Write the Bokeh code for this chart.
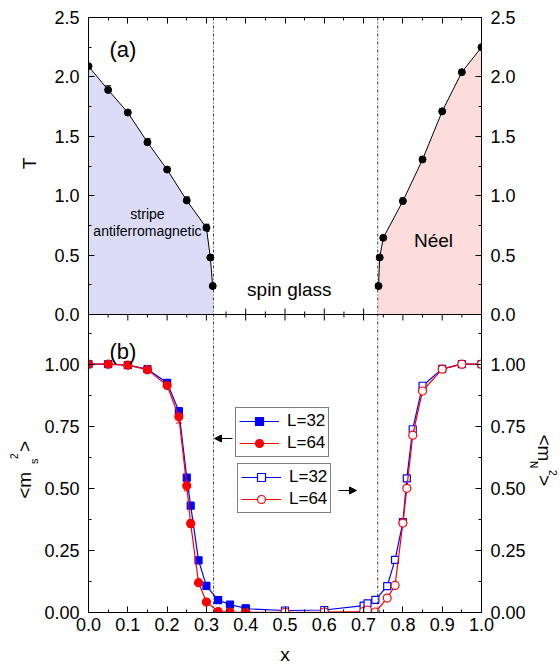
import math
from bokeh.plotting import figure
from bokeh.models import (Range1d, LinearAxis, FixedTicker,
                          PrintfTickFormatter, CustomJSTickFormatter, Span, Label, Legend,
                          LegendItem, Arrow, NormalHead, Whisker, TeeHead, ColumnDataSource)
from bokeh.layouts import row
from bokeh.embed import file_html
from bokeh.resources import INLINE

FONT = "Liberation Sans"

# ---------------- data: panel (a) phase diagram ----------------
stripe_x = [0.0, 0.05, 0.10, 0.15, 0.20, 0.25, 0.30, 0.31, 0.316]
stripe_T = [2.09, 1.89, 1.70, 1.45, 1.22, 0.96, 0.73, 0.48, 0.24]
stripe_err = [0.01, 0.035, 0.02, 0.03, 0.02, 0.03, 0.03, 0.02, 0.02]

neel_x = [0.738, 0.741, 0.75, 0.80, 0.85, 0.90, 0.95, 1.00]
neel_T = [0.24, 0.48, 0.645, 0.955, 1.305, 1.71, 2.04, 2.25]
neel_err = [0.02, 0.02, 0.02, 0.025, 0.02, 0.02, 0.02, 0.01]

boundaries = [0.318, 0.736]   # spin-glass phase boundaries (dotted lines)

# ---------------- data: panel (b) order parameters ----------------
xs_stripe = [0.0, 0.05, 0.10, 0.15, 0.20, 0.23, 0.25, 0.26, 0.28, 0.30, 0.33, 0.36, 0.40]
ms_L32 = [1.0, 1.0, 0.996, 0.98, 0.925, 0.81, 0.543, 0.43, 0.21, 0.107, 0.05, 0.032, 0.017]
ms_L32_err = [0, 0, 0, 0.005, 0.01, 0.015, 0.01, 0.01, 0.01, 0.008, 0.006, 0.005, 0.004]
ms_L64 = [1.0, 1.0, 0.996, 0.978, 0.914, 0.788, 0.51, 0.358, 0.12, 0.042, 0.004, 0.002, 0.001]
ms_L64_err = [0, 0, 0, 0.005, 0.01, 0.025, 0.02, 0.015, 0.01, 0.008, 0.004, 0.002, 0.001]

xs_neel = [0.40, 0.50, 0.60, 0.70, 0.71, 0.73, 0.76, 0.78, 0.80, 0.81, 0.825, 0.85, 0.90, 0.95, 1.00]
mn_L32 = [0.015, 0.008, 0.010, 0.028, 0.037, 0.051, 0.106, 0.212, 0.364, 0.54, 0.738, 0.913, 0.981, 1.0, 1.0]
mn_L32_err = [0.006] * 15
mn_L64 = [0.001, 0.001, 0.002, 0.004, 0.010, 0.002, 0.058, 0.109, 0.36, 0.50, 0.714, 0.892, 0.98, 1.0, 1.0]
mn_L64_err = [0.004] * 15

legend_labels = ["L=32", "L=64"]

T_ticks = [0.0, 0.5, 1.0, 1.5, 2.0, 2.5]
T_minor = [0.25, 0.75, 1.25, 1.75, 2.25]
m_ticks = [0.0, 0.25, 0.50, 0.75, 1.00]
m_minor = [0.125, 0.375, 0.625, 0.875, 1.125]
x_ticks = [0.0, 0.1, 0.2, 0.3, 0.4, 0.5, 0.6, 0.7, 0.8, 0.9, 1.0]
x_minor = [0.05, 0.15, 0.25, 0.35, 0.45, 0.55, 0.65, 0.75, 0.85, 0.95]

# ---------------- geometry of the two stacked panels (one frame) ----------------
W_LEFT, W_RIGHT, H = 41, 33, 671
B_TOP, B_BOT = 17, 59
FW, H_TOP, H_BOT = 393, 297, 298
M_TOP = 1.2                          # upper limit of panel (b)
PX_M = H_BOT / M_TOP                 # px per unit of <m^2>
PX_T = H_TOP / 2.5                   # px per unit of T
K = PX_T / PX_M                      # T -> panel-(b) units
m_end = (H_TOP + H_BOT) / PX_M
T_start = -H_BOT / PX_T

p = figure(frame_width=FW, frame_height=H_TOP + H_BOT,
           x_range=Range1d(0, 1), y_range=Range1d(0, m_end),
           output_backend="svg", toolbar_location=None,
           x_axis_location=None, y_axis_location=None,
           min_border_left=87 - W_LEFT, min_border_right=47, min_border_top=B_TOP,
           min_border_bottom=B_BOT)
p.extra_y_ranges = {"top": Range1d(T_start, 2.5)}
p.xgrid.visible = False
p.ygrid.visible = False
p.outline_line_color = "black"
p.background_fill_color = "white"
p.border_fill_color = "white"

y_major = m_ticks + [M_TOP + K * t for t in T_ticks]
y_minor = m_minor + [M_TOP + K * t for t in T_minor]
yfmt = CustomJSTickFormatter(args=dict(b=M_TOP, k=K), code="""
    if (tick > b - 1e-6) {
        let T = (tick - b) / k;
        if (Math.abs(T) < 1e-6) { T = 0; }
        return T.toFixed(1);
    }
    return tick.toFixed(2);
""")


def style(ax, standoff=9):
    ax.axis_line_color = "black"
    ax.major_tick_in = 6
    ax.major_tick_out = 0
    ax.minor_tick_in = 3
    ax.minor_tick_out = 0
    ax.major_tick_line_color = "black"
    ax.minor_tick_line_color = "black"
    ax.major_label_text_font = FONT
    ax.major_label_text_font_size = "18px"
    ax.major_label_text_color = "black"
    ax.major_label_standoff = standoff
    ax.axis_label_text_font = FONT
    ax.axis_label_text_font_style = "normal"
    ax.axis_label_text_color = "black"
    ax.axis_label_text_font_size = "19px"
    return ax


for side in ("left", "right"):
    ax = LinearAxis(ticker=FixedTicker(ticks=y_major, minor_ticks=y_minor), formatter=yfmt)
    p.add_layout(style(ax), side)

xb = LinearAxis(ticker=FixedTicker(ticks=x_ticks, minor_ticks=x_minor),
                formatter=PrintfTickFormatter(format="%.1f"))
style(xb, standoff=5)
xb.axis_label = "x"
xb.axis_label_standoff = 10
p.add_layout(xb, "below")

xt = LinearAxis(ticker=FixedTicker(ticks=x_ticks, minor_ticks=x_minor),
                formatter=CustomJSTickFormatter(code="return '';"))
style(xt, standoff=0)
p.add_layout(xt, "above")

# shared border between panel (a) and panel (b), with ticks into both panels
p.add_layout(Span(location=M_TOP, dimension="width", line_color="black", line_width=1))
p.scatter(x_ticks, [M_TOP] * len(x_ticks), marker="dash", angle=math.pi / 2, size=12,
          line_color="black", line_width=1)
p.scatter(x_minor, [M_TOP] * len(x_minor), marker="dash", angle=math.pi / 2, size=6,
          line_color="black", line_width=1)

# ================= panel (a) =================
p.patch(stripe_x + [boundaries[0], 0.0], stripe_T + [0.0, 0.0],
        fill_color="#DCDCF8", line_color=None, y_range_name="top")
p.patch([boundaries[1]] + neel_x + [1.0], [0.0] + neel_T + [0.0],
        fill_color="#FDDCDC", line_color=None, y_range_name="top")

for b in boundaries:
    p.add_layout(Span(location=b, dimension="height", line_color="black",
                      line_width=0.8, line_dash="3 2 1 2"))

for xs, ys, es in [(stripe_x, stripe_T, stripe_err), (neel_x, neel_T, neel_err)]:
    src = ColumnDataSource(dict(x=xs, y=ys,
                                up=[a + e for a, e in zip(ys, es)],
                                lo=[a - e for a, e in zip(ys, es)]))
    p.add_layout(Whisker(source=src, base="x", upper="up", lower="lo", dimension="height",
                         line_color="black", line_width=1, y_range_name="top",
                         upper_head=TeeHead(size=6, line_color="black"),
                         lower_head=TeeHead(size=6, line_color="black")))
    p.line("x", "y", source=src, line_color="black", line_width=1, y_range_name="top")
    p.scatter("x", "y", source=src, marker="circle", size=7, color="black",
              y_range_name="top")


def lab(fig, x, y, text, fs, rng="default", align="left", angle=0.0, base="alphabetic"):
    fig.add_layout(Label(x=x, y=y, text=text, text_font=FONT, text_font_size=fs,
                         text_color="black", text_align=align, text_baseline=base,
                         angle=angle, y_range_name=rng))


lab(p, 0.0534, 2.231, "(a)", "22px", "top")
lab(p, 0.150, 0.85, "stripe", "14px", "top", "center")
lab(p, 0.150, 0.707, "antiferromagnetic", "14px", "top", "center")
lab(p, 0.511, 0.21, "spin glass", "19px", "top", "center")
lab(p, 0.878, 0.623, "Néel", "19px", "top", "center")

# ================= panel (b) =================


def series(xs, ys, es, color, marker, size, filled):
    src = ColumnDataSource(dict(x=xs, y=ys,
                                up=[a + e for a, e in zip(ys, es)],
                                lo=[a - e for a, e in zip(ys, es)]))
    ln = p.line("x", "y", source=src, line_color=color, line_width=1.2)
    p.add_layout(Whisker(source=src, base="x", upper="up", lower="lo", dimension="height",
                         line_color=color, line_width=1,
                         upper_head=TeeHead(size=6, line_color=color),
                         lower_head=TeeHead(size=6, line_color=color)))
    sc = p.scatter("x", "y", source=src, marker=marker, size=size,
                   line_color=color, line_width=1.2,
                   fill_color=color if filled else "white")
    return ln, sc


b_l, b_s = series(xs_neel, mn_L32, mn_L32_err, "blue", "square", 7, False)
r_l, r_s = series(xs_neel, mn_L64, mn_L64_err, "red", "circle", 8, False)
B_l, B_s = series(xs_stripe, ms_L32, ms_L32_err, "blue", "square", 7, True)
R_l, R_s = series(xs_stripe, ms_L64, ms_L64_err, "red", "circle", 8, True)


def make_legend(items, loc):
    return Legend(items=items, location=loc, orientation="vertical",
                  label_text_font=FONT, label_text_font_size="17px",
                  label_text_color="black",
                  glyph_width=40, glyph_height=20, label_height=20,
                  label_standoff=8, padding=3, spacing=2, margin=0,
                  border_line_color="black", border_line_width=1,
                  background_fill_color="white", background_fill_alpha=1)


p.add_layout(make_legend([LegendItem(label=legend_labels[0], renderers=[B_l, B_s]),
                          LegendItem(label=legend_labels[1], renderers=[R_l, R_s])],
                         (147, 155)), "center")
p.add_layout(make_legend([LegendItem(label=legend_labels[0], renderers=[b_l, b_s]),
                          LegendItem(label=legend_labels[1], renderers=[r_l, r_s])],
                         (149, 99)), "center")

p.add_layout(Arrow(x_start=0.3664, y_start=0.7007, x_end=0.3206, y_end=0.7007,
                   line_color="black", line_width=1,
                   end=NormalHead(size=7, fill_color="black", line_color="black")))
p.add_layout(Arrow(x_start=0.6361, y_start=0.4913, x_end=0.6819, y_end=0.4913,
                   line_color="black", line_width=1,
                   end=NormalHead(size=7, fill_color="black", line_color="black")))

lab(p, 0.0534, 1.053, "(b)", "22px")


# ---------------- side strips holding the rotated y titles ----------------
# strip coordinates: x in px from the strip's left edge, y in px from the page bottom
def strip(w):
    s = figure(frame_width=w, frame_height=H_TOP + H_BOT,
               x_range=Range1d(0, w), y_range=Range1d(B_BOT, H - B_TOP),
               output_backend="svg", toolbar_location=None,
               x_axis_location=None, y_axis_location=None,
               min_border_left=0, min_border_right=0,
               min_border_top=B_TOP, min_border_bottom=B_BOT)
    s.xgrid.visible = False
    s.ygrid.visible = False
    s.outline_line_color = None
    s.background_fill_color = "white"
    s.border_fill_color = "white"
    return s


up = math.pi / 2
dn = -math.pi / 2
# anchors are the centres of each text line (text_baseline="middle")
sl = strip(W_LEFT)
lab(sl, 29.0, 508.0, "T", "19px", "default", "center", up, "middle")
for x, y, t, fs in [(23.7, 172.7, "<m", "19px"), (33.1, 207.5, "s", "11px"),
                    (13.4, 212.5, "2", "10px"), (23.7, 219.5, ">", "19px")]:
    lab(sl, x, y, t, fs, "default", "left", up, "middle")

sr = strip(W_RIGHT)
for x, y, t, fs in [(15.6, 237.0, "<m", "19px"), (4.5, 210.5, "N", "10px"),
                    (24.6, 201.5, "2", "10px"), (15.6, 196.5, ">", "19px")]:
    lab(sr, x, y, t, fs, "default", "left", dn, "middle")

layout = row(sl, p, sr, spacing=0)
open("out.html", "w").write(file_html(layout, INLINE))
